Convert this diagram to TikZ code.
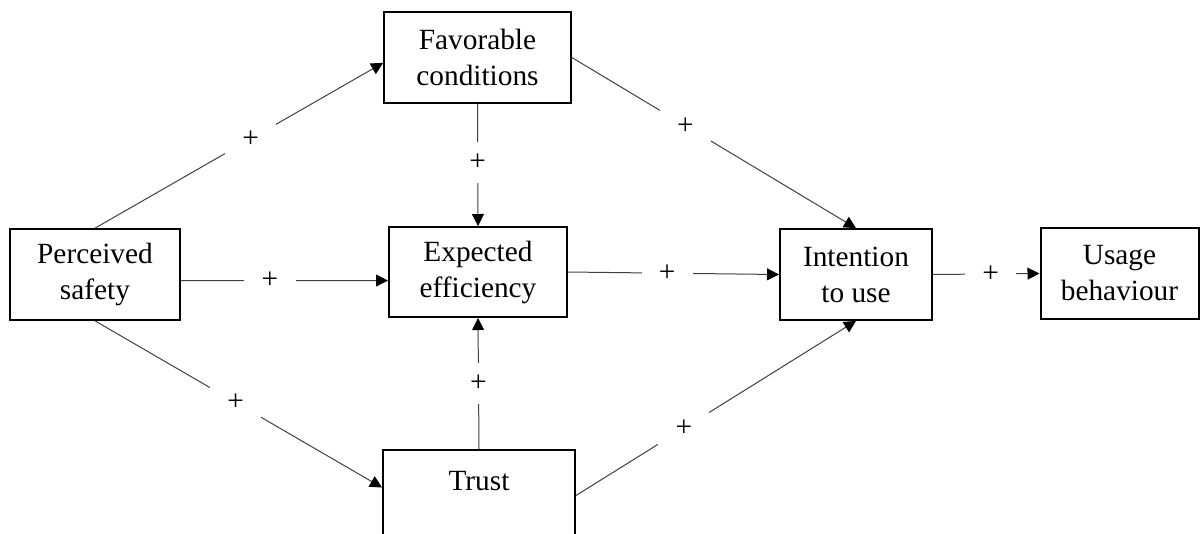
\documentclass[tikz,border=0pt]{standalone}
\usepackage{fontspec}
\setmainfont{Liberation Serif}
\usetikzlibrary{arrows.meta}

\tikzset{every picture/.style={line width=0.75pt}}
\tikzset{
  factor/.style={draw, line width=1.5pt, align=center, inner sep=0.75pt, font=\fontsize{22}{27}\selectfont},
  link/.style={draw=black!75, -{Triangle[length=9pt,width=9pt,color=black]}},
  pluslabel/.style={fill=white, inner xsep=13pt, inner ysep=9pt, font=\fontsize{22}{27}\selectfont}
}

\begin{document}
\begin{tikzpicture}[x=0.75pt,y=0.75pt,yscale=-1,xscale=1]
	\useasboundingbox (0,0) rectangle (1201,533);
	\clip (0,0) rectangle (1201,533);

	% Text Node
	\node [factor, minimum width=140pt, minimum height=68pt] (Favorable) at (477.5,57.5) {Favorable\\conditions};
	% Text Node
	\node [factor, minimum width=127.5pt, minimum height=68pt] (Perceived) at (95,274.5) {Perceived\\safety};
	% Text Node
	\node [factor, minimum width=133.5pt, minimum height=67.5pt] (Expected) at (478,272) {Expected\\efficiency};
	% Text Node
	\node [factor, minimum width=114pt, minimum height=68pt] (Intention) at (856,274.5) {Intention\\to use};
	% Text Node
	\node [factor, minimum width=118.5pt, minimum height=68pt] (Usage) at (1119.5,273.5) {Usage\\behaviour};
	% Text Node
	\node [factor, minimum width=144pt, minimum height=68pt, text height=14pt, text depth=22pt] (Trust) at (479,495.5) {Trust};

	%Straight Lines
	\draw [link] (Perceived.north) -- node [pluslabel, pos=0.54] {+} ([yshift=4pt]Favorable.west);
	%Straight Lines
	\draw [link] (Favorable.south) -- node [pluslabel, pos=0.48] {+} (Expected.north);
	%Straight Lines
	\draw [link] (Favorable.east) -- node [pluslabel, pos=0.4] {+} (Intention.north);
	%Straight Lines
	\draw [link] ([yshift=4.5pt]Perceived.east) -- node [pluslabel, pos=0.43] {+} ([yshift=6.4pt]Expected.west);
	%Straight Lines
	\draw [link] (Expected.east) -- node [pluslabel, pos=0.47] {+} (Intention.west);
	%Straight Lines
	\draw [link] (Intention.east) -- node [pluslabel, pos=0.54] {+} (Usage.west);
	%Straight Lines
	\draw [link] (Perceived.south) -- node [pluslabel, pos=0.49] {+} ([yshift=-6pt]Trust.west);
	%Straight Lines
	\draw [link] (Trust.north) -- node [pluslabel, pos=0.5] {+} (Expected.south);
	%Straight Lines
	\draw [link] (Trust.east) -- node [pluslabel, pos=0.385] {+} (Intention.south);

\end{tikzpicture}
\end{document}
